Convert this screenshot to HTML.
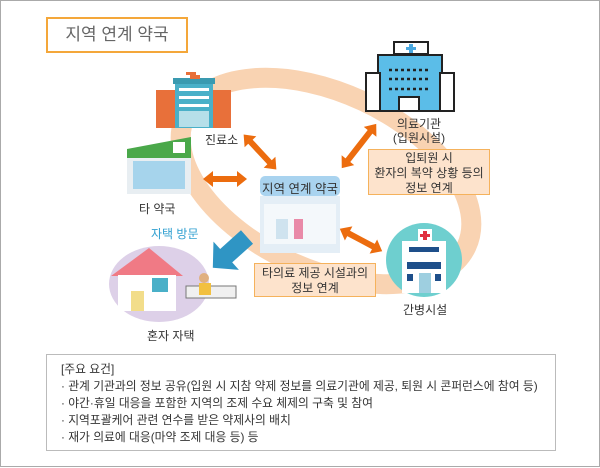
<!DOCTYPE html>
<html><head><meta charset="utf-8"><style>
body{margin:0;width:600px;height:467px;overflow:hidden;background:#fff;font-family:"Liberation Sans","Noto Sans CJK KR",sans-serif;}
.wrap{position:relative;width:598px;height:465px;border:1px solid #aaa;}
.t{position:absolute;font-size:12px;color:#333;white-space:nowrap;text-align:center}
.box{position:absolute;background:#fde3cc;border:1.5px solid #f5b25c;font-size:12px;color:#333;text-align:center;line-height:15px}
</style></head><body><div class="wrap">
<div style="position:absolute;left:45px;top:16px;width:138px;height:32px;border:2px solid #f4a73a;font-size:17px;color:#666;line-height:32px;text-align:center">지역 연계 약국</div>
<svg width="600" height="467" style="position:absolute;left:0;top:0">
<ellipse cx="325" cy="180" rx="155" ry="88" transform="rotate(25 325 180)" fill="none" stroke="#f9d3b2" stroke-width="20"/>
<!-- hospital -->
<rect x="393" y="41" width="34" height="12" fill="#fff" stroke="#222" stroke-width="2"/>
<path d="M408 43h4v3h3v3h-3v3h-4v-3h-3v-3h3z" fill="#4aa8e0"/>
<rect x="377" y="54" width="64" height="56" fill="#5bbde8" stroke="#222" stroke-width="2"/>
<rect x="365" y="72" width="14" height="38" fill="#fff" stroke="#222" stroke-width="2"/>
<rect x="439" y="72" width="14" height="38" fill="#fff" stroke="#222" stroke-width="2"/>
<rect x="398" y="96" width="20" height="14" fill="#fff" stroke="#222" stroke-width="2"/>
<g stroke="#222" stroke-width="2.5" stroke-dasharray="3 3"><line x1="388" y1="69" x2="430" y2="69"/><line x1="388" y1="78" x2="430" y2="78"/><line x1="388" y1="88" x2="430" y2="88"/></g>
<!-- clinic -->
<rect x="155" y="89" width="75" height="38" fill="#e8703a"/>
<rect x="174" y="79" width="38" height="48" fill="#4ab0c8"/>
<rect x="172" y="77" width="42" height="6" fill="#3a9ab0"/>
<path d="M189 71h6v3h4v4h-4v0h-6v-4h-4v-3h4z" fill="#e8703a"/>
<g fill="#fff"><rect x="178" y="87" width="30" height="3"/><rect x="178" y="95" width="30" height="3"/><rect x="178" y="103" width="30" height="3"/><rect x="178" y="110" width="30" height="16" opacity=".6"/></g>
<!-- other pharmacy -->
<path d="M126 148 L190 136 L190 157 L126 157z" fill="#4aa84a"/>
<rect x="126" y="157" width="64" height="36" fill="#e8eef2"/>
<rect x="132" y="160" width="52" height="28" fill="#a6d4ec"/>
<rect x="172" y="141" width="12" height="11" fill="#fff"/>
<!-- center pharmacy -->
<rect x="259" y="195" width="80" height="57" fill="#e4eef6"/>
<rect x="263" y="203" width="72" height="40" fill="#f4f8fb"/>
<rect x="293" y="218" width="9" height="20" fill="#e98aa8"/>
<rect x="275" y="218" width="12" height="20" fill="#cfe3ef"/>
<rect x="259" y="175" width="80" height="20" rx="5" fill="#a9d3ef"/>
<!-- care facility -->
<ellipse cx="423" cy="259" rx="38" ry="37" fill="#6ecfcf"/>
<rect x="401" y="240" width="44" height="52" fill="#fff"/>
<rect x="417" y="228" width="14" height="12" fill="#fff"/>
<path d="M422 230h4v3h3v3h-3v3h-4v-3h-3v-3h3z" fill="#e03040"/>
<g fill="#1e4f8a"><rect x="408" y="246" width="30" height="5"/><rect x="406" y="261" width="34" height="7"/><rect x="406" y="273" width="6" height="7"/><rect x="434" y="273" width="6" height="7"/></g>
<rect x="418" y="272" width="12" height="20" fill="#9ecfe0"/>
<!-- home -->
<ellipse cx="158" cy="283" rx="50" ry="38" fill="#ddd0e8"/>
<path d="M110 275 L148 247 L182 275z" fill="#f07a85"/>
<rect x="117" y="274" width="58" height="36" fill="#fff"/>
<rect x="130" y="290" width="13" height="20" fill="#f2dd8a"/>
<rect x="151" y="277" width="16" height="14" fill="#4ab0c8"/>
<rect x="185" y="285" width="50" height="12" fill="#f0f0f0" stroke="#777"/>
<circle cx="203" cy="277" r="5" fill="#e0b080"/><rect x="198" y="282" width="12" height="12" fill="#f2c040"/>
<!-- arrows -->
<g fill="#ec6c0e">
<polygon points="0,-3 14,-3 14,-8 24,0 14,8 14,3 0,3 -14,3 -14,8 -24,0 -14,-8 -14,-3" transform="translate(259,151) rotate(47)"/>
<polygon points="0,-3 12,-3 12,-8 22,0 12,8 12,3 0,3 -12,3 -12,8 -22,0 -12,-8 -12,-3" transform="translate(224,178)"/>
<polygon points="0,-3 18,-3 18,-8 28,0 18,8 18,3 0,3 -18,3 -18,8 -28,0 -18,-8 -18,-3" transform="translate(358,145) rotate(-52)"/>
<polygon points="0,-3 14,-3 14,-8 24,0 14,8 14,3 0,3 -14,3 -14,8 -24,0 -14,-8 -14,-3" transform="translate(360,239) rotate(28)"/>
</g>
<polygon points="0,-9 28,-9 28,-19 46,0 28,19 28,9 0,9" fill="#2f95c4" transform="translate(246,236) rotate(138)"/>
</svg>
<div class="t" style="left:259px;top:177px;width:80px;font-size:12.5px">지역 연계 약국</div>
<div class="t" style="left:378px;top:116px;width:80px;line-height:14px">의료기관<br>(입원시설)</div>
<div class="t" style="left:204px;top:130px">진료소</div>
<div class="t" style="left:138px;top:199px">타 약국</div>
<div class="t" style="left:150px;top:224px;color:#2f9fd0">자택 방문</div>
<div class="t" style="left:146px;top:326px">혼자 자택</div>
<div class="t" style="left:402px;top:300px">간병시설</div>
<div class="box" style="left:367px;top:148px;width:122px;height:46px;padding-top:1px;box-sizing:border-box">입퇴원 시<br>환자의 복약 상황 등의<br>정보 연계</div>
<div class="box" style="left:253px;top:262px;width:122px;height:34px;padding-top:2px;box-sizing:border-box">타의료 제공 시설과의<br>정보 연계</div>
<div style="position:absolute;left:45px;top:353px;width:510px;height:97px;border:1px solid #bbb;box-sizing:border-box;padding:6px 0 0 14px;font-size:11.8px;line-height:17px;color:#333;white-space:nowrap">[주요 요건]<br>· 관계 기관과의 정보 공유(입원 시 지참 약제 정보를 의료기관에 제공, 퇴원 시 콘퍼런스에 참여 등)<br>· 야간·휴일 대응을 포함한 지역의 조제 수요 체제의 구축 및 참여<br>· 지역포괄케어 관련 연수를 받은 약제사의 배치<br>· 재가 의료에 대응(마약 조제 대응 등) 등</div>
</div></body></html>
